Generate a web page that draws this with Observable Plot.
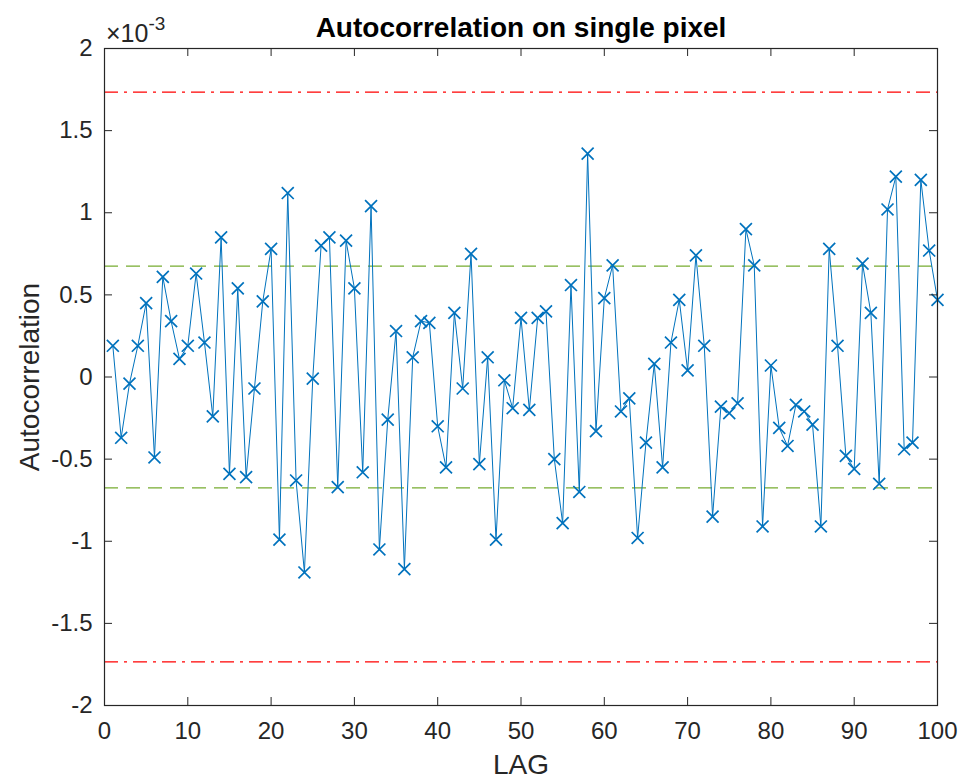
<!DOCTYPE html>
<html>
<head>
<meta charset="utf-8">
<script src="https://cdn.jsdelivr.net/npm/d3@7"></script>
<script src="https://cdn.jsdelivr.net/npm/@observablehq/plot@0.6"></script>
<style>
  html, body { margin: 0; padding: 0; background: #fff; }
  svg { display: block; }
</style>
</head>
<body>
<div id="chart"></div>
<script>
// Autocorrelation values (×10^-3) for lags 1..100
const lags = d3.range(1, 101);
const acf = [
  0.19, -0.37, -0.04, 0.19, 0.45, -0.49, 0.61, 0.34, 0.11, 0.19,
  0.63, 0.21, -0.24, 0.85, -0.59, 0.54, -0.61, -0.07, 0.46, 0.78,
  -0.99, 1.12, -0.63, -1.19, -0.01, 0.80, 0.85, -0.67, 0.83, 0.54,
  -0.58, 1.04, -1.05, -0.26, 0.28, -1.17, 0.12, 0.34, 0.33, -0.30,
  -0.55, 0.39, -0.07, 0.75, -0.53, 0.12, -0.99, -0.02, -0.19, 0.36,
  -0.20, 0.36, 0.40, -0.50, -0.89, 0.56, -0.70, 1.36, -0.33, 0.48,
  0.68, -0.21, -0.13, -0.98, -0.40, 0.08, -0.55, 0.21, 0.47, 0.04,
  0.74, 0.19, -0.85, -0.18, -0.22, -0.16, 0.90, 0.68, -0.91, 0.07,
  -0.31, -0.42, -0.17, -0.21, -0.29, -0.91, 0.78, 0.19, -0.48, -0.56,
  0.69, 0.39, -0.65, 1.02, 1.22, -0.44, -0.40, 1.20, 0.77, 0.47
];
// Confidence bounds (×10^-3)
const innerBounds = [0.675, -0.675];
const outerBounds = [1.735, -1.735];
const xTicks = [0, 10, 20, 30, 40, 50, 60, 70, 80, 90, 100];
const yTicks = [-2, -1.5, -1, -0.5, 0, 0.5, 1, 1.5, 2];

const data = lags.map((lag, i) => ({lag, value: acf[i]}));
const font = "'Liberation Sans', Arial, Helvetica, sans-serif";
const axisColor = "#262626";
const W = 962, H = 780, ML = 104, MR = 25, MT = 48, MB = 75;
const tickLen = 8;
const frameW = W - ML - MR, frameH = H - MT - MB;

const chart = Plot.plot({
  width: W,
  height: H,
  marginLeft: ML,
  marginRight: MR,
  marginTop: MT,
  marginBottom: MB,
  style: {fontFamily: font, fontSize: "24px", color: axisColor, background: "#fff"},
  x: {domain: [0, 100], label: null, axis: null},
  y: {domain: [-2, 2], label: null, axis: null},
  marks: [
    Plot.ruleY(outerBounds, {stroke: "#FF0000", strokeWidth: 1.3, strokeDasharray: "14,6,3,6"}),
    Plot.ruleY(innerBounds, {stroke: "#77AC30", strokeWidth: 1.3, strokeDasharray: "14,8"}),
    Plot.line(data, {x: "lag", y: "value", stroke: "#0072BD", strokeWidth: 1}),
    Plot.dot(data, {x: "lag", y: "value", symbol: "times", stroke: "#0072BD", strokeWidth: 1.7, r: 5.5}),
    // inward tick marks on all four sides
    Plot.tickX(xTicks, {x: d => d, insetTop: frameH - tickLen, stroke: axisColor}),
    Plot.tickX(xTicks, {x: d => d, insetBottom: frameH - tickLen, stroke: axisColor}),
    Plot.tickY(yTicks, {y: d => d, insetRight: frameW - tickLen, stroke: axisColor}),
    Plot.tickY(yTicks, {y: d => d, insetLeft: frameW - tickLen, stroke: axisColor}),
    Plot.frame({stroke: axisColor, strokeWidth: 1.2}),
    // tick labels
    Plot.text(xTicks, {x: d => d, text: d => String(d), frameAnchor: "bottom", lineAnchor: "middle", dy: 26, fontSize: 24, fill: axisColor}),
    Plot.text(yTicks, {y: d => d, text: d => String(d), frameAnchor: "left", textAnchor: "end", dx: -12, fontSize: 24, fill: axisColor}),
    // titles
    Plot.text(["Autocorrelation on single pixel"], {frameAnchor: "top", lineAnchor: "middle", dy: -20, fontSize: 28, fontWeight: "bold", fill: "#000"}),
    Plot.text(["LAG"], {frameAnchor: "bottom", lineAnchor: "middle", dy: 60, fontSize: 28, fill: axisColor}),
    Plot.text(["Autocorrelation"], {frameAnchor: "left", textAnchor: "middle", lineAnchor: "middle", dx: -74, rotate: -90, fontSize: 28, fill: axisColor})
  ]
});

// ×10^-3 exponent label (real text)
const svg = d3.select(chart);
const exp = svg.append("text")
  .attr("x", 106).attr("y", 42).attr("text-anchor", "start")
  .attr("font-family", font).attr("font-size", 25).attr("fill", axisColor);
exp.append("tspan").text("×10");
exp.append("tspan").attr("dy", -12).attr("font-size", 19).text("-3");

document.getElementById("chart").appendChild(chart);
</script>
</body>
</html>
